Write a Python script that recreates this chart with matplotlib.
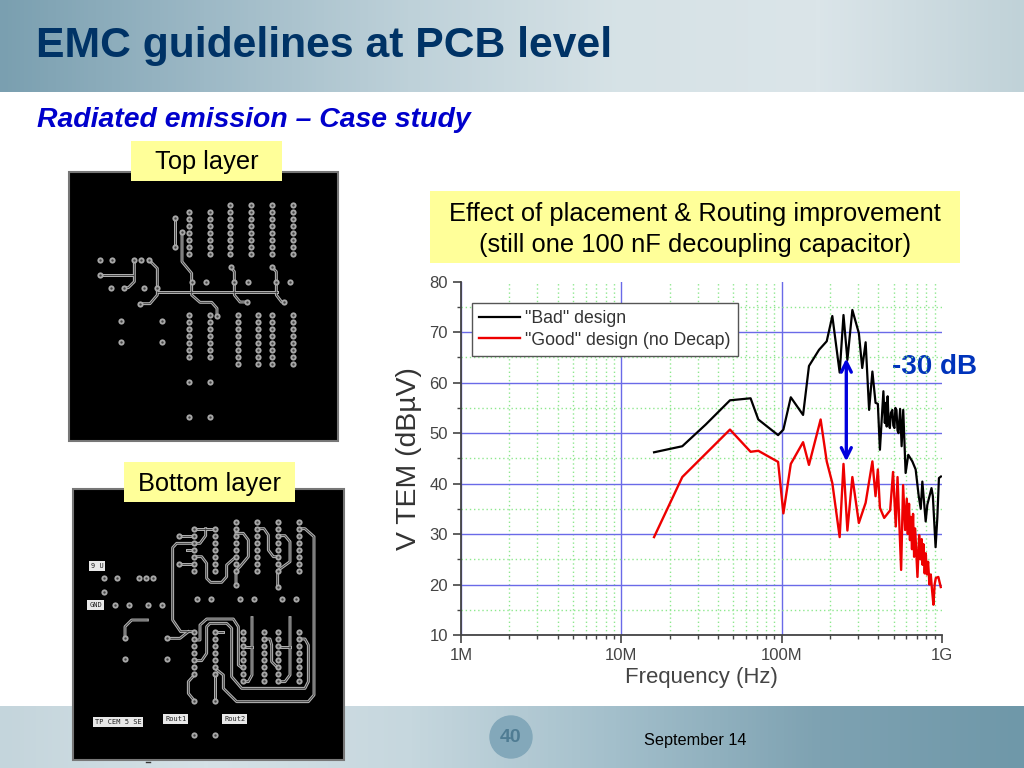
import matplotlib
matplotlib.use("Agg")
import matplotlib.pyplot as plt
import numpy as np
from matplotlib import colors
from matplotlib.patches import Rectangle, Circle

plt.rcParams['font.family'] = ['Liberation Sans', 'DejaVu Sans']

# chart values, frequency in MHz and level in dBuV
bad_freq = [16, 24, 33.6, 47.6, 64, 71.5, 95, 102.5, 114, 136, 148, 171, 191, 207, 230, 243, 257, 276, 303, 318,
            334, 351, 368, 385, 398, 410, 431, 440, 447, 452, 458, 465, 473, 480, 490, 497, 505, 512, 520, 528, 535, 548, 560, 573, 593, 616, 653,
            685, 716, 737, 754, 791, 810, 860, 877, 912, 935, 957, 985]
bad_level = [46.2, 47.4, 51.7, 56.5, 56.9, 52.7, 49.6, 50.7, 57.1, 53.6, 63.3, 66.5, 68.2, 73.2, 62, 73.4, 64.5, 74.4, 69.8, 62.9,
             68, 54.6, 62.2, 56, 55.8, 46.7, 58.3, 52, 56, 51.3, 57.3, 52, 51, 54, 54.6, 51.5, 51, 55, 54.6, 50.5, 50, 54.8, 47.4, 54.6, 42.1, 45.7, 44.4,
             42.8, 37.5, 35, 40.4, 32.5, 35.8, 39.1, 37.5, 27.4, 33.2, 41.1, 41.4]
good_freq = [16, 24, 47.6, 64, 71.5, 95, 102.5, 114, 136, 148, 175, 191, 207, 230, 243, 257, 276, 303, 334, 368,
             385, 398, 410, 436, 475, 495, 515, 528, 556, 572, 589, 603, 612, 623, 631, 639, 650, 660, 670, 680,
             703, 720, 733, 747, 757, 766, 780, 792, 805, 819, 835, 851, 867, 884, 900, 915, 949, 982]
good_level = [29.4, 41.3, 50.7, 46.3, 46.5, 44.3, 34.1, 43.9, 48.2, 43.7, 52.7, 44.4, 40.1, 29.4, 43.9, 30.7, 41.3, 32.2, 36.2, 44.4,
              37.5, 42.8, 35.2, 33.2, 34.7, 42.3, 31.5, 41.3, 22.9, 39.7, 30.8, 37, 30, 36, 28.8, 33.4, 27, 34, 25.5, 31.1,
              21.5, 29.8, 25, 29, 23.9, 28, 22.2, 26.2, 22, 24.5, 20, 22, 18.9, 16, 20, 21.3, 21.5, 19.5]
x_ticks = [1, 10, 100, 1000]
x_labels = ['1M', '10M', '100M', '1G']
y_ticks = [10, 20, 30, 40, 50, 60, 70, 80]

# board drawings, same numbers
top_traces = [[(345, 145), (345, 230)],
              [(366, 186), (366, 275), (395, 310), (395, 375), (420, 397), (455, 397), (471, 415), (471, 438)],
              [(120, 315), (218, 315)],
              [(223, 269), (223, 335), (205, 353), (193, 353)],
              [(266, 269), (292, 295), (292, 375), (270, 401), (241, 401)],
              [(292, 365), (650, 365)],
              [(513, 292), (523, 305), (523, 375), (540, 396), (562, 396)],
              [(637, 292), (649, 305), (649, 375), (665, 396), (672, 396)]]
top_pads = [(120, 271), (156, 271), (223, 269), (244, 269), (266, 269), (120, 315), (152, 353), (193, 353), (251, 353),
            (183, 453), (307, 453), (183, 515), (307, 515), (387, 637), (449, 637), (387, 741), (449, 741),
            (345, 145), (345, 230), (366, 186), (438, 336), (565, 336), (691, 336), (395, 336), (523, 336), (649, 336),
            (513, 292), (637, 292), (241, 401), (562, 396), (672, 396), (471, 438), (291, 353)]
top_cols = [(388, 125, 7), (450, 125, 7), (511, 104, 8), (573, 104, 8), (636, 104, 8), (699, 104, 8),
            (387, 436, 7), (449, 436, 7), (533, 436, 8), (595, 436, 8), (636, 436, 8), (699, 436, 8)]

bottom_traces = [[(403, 131), (465, 131)], [(358, 152), (403, 152)], [(437, 131), (437, 152), (420, 175), (403, 175)],
                 [(403, 175), (350, 175), (338, 188), (338, 405), (362, 440), (403, 440)],
                 [(358, 236), (403, 236)], [(380, 195), (403, 195)],
                 [(403, 215), (425, 215), (440, 235), (440, 280), (452, 292), (485, 292), (500, 275), (500, 240), (528, 215)],
                 [(528, 145), (550, 145), (565, 165), (565, 215), (540, 245), (528, 257), (528, 300)],
                 [(590, 131), (612, 131), (625, 150), (625, 195), (640, 215), (653, 215)],
                 [(653, 152), (675, 152), (690, 170), (690, 230), (653, 257), (653, 305)],
                 [(716, 131), (735, 131), (762, 155), (762, 630), (745, 650), (530, 650), (490, 610), (490, 570), (465, 550)],
                 [(403, 570), (385, 590), (385, 625), (403, 647)], [(465, 570), (465, 647)],
                 [(195, 460), (195, 425), (215, 405), (262, 405)], [(320, 460), (360, 460), (385, 440)],
                 [(403, 465), (420, 465), (420, 420), (440, 402), (520, 402), (535, 425), (535, 540), (548, 550)],
                 [(403, 527), (425, 527), (440, 505), (440, 425), (450, 415), (500, 415), (515, 430), (515, 575), (545, 610),
                  (735, 610), (745, 590), (745, 480), (735, 462), (716, 462)],
                 [(465, 442), (490, 442)], [(576, 398), (576, 570), (565, 590), (548, 590)],
                 [(690, 398), (690, 570), (675, 590), (653, 590)], [(548, 485), (576, 485)], [(653, 485), (690, 485)],
                 [(611, 462), (630, 462), (635, 480), (635, 530), (653, 548)]]
bottom_pads = [(131, 278), (170, 278), (238, 278), (259, 278), (280, 278), (131, 320), (166, 360), (207, 360), (265, 360),
               (306, 360), (195, 460), (320, 460), (195, 522), (320, 522), (403, 647), (465, 647), (403, 749), (465, 749),
               (411, 343), (453, 343), (540, 343), (582, 343), (665, 343), (708, 343), (358, 152), (358, 236), (528, 300), (653, 305)]
bottom_cols = [(403, 131, 7), (465, 131, 7), (528, 110, 8), (590, 110, 8), (653, 110, 8), (716, 110, 8),
               (403, 442, 7), (465, 442, 7), (548, 442, 8), (611, 442, 8), (653, 442, 8), (716, 442, 8)]
bottom_labels = [('9 U', 111, 242), ('GND', 107, 360), ('TP CEM 5 SE', 174, 712), ('Rout1', 347, 701), ('Rout2', 524, 701)]

fig = plt.figure(figsize=(10.24, 7.68), dpi=100, facecolor='white')

# whole slide in pixel coordinates
bg = fig.add_axes([0, 0, 1, 1])
bg.set_xlim(0, 1024)
bg.set_ylim(768, 0)
bg.axis('off')

head_cmap = colors.LinearSegmentedColormap.from_list('head', ['#7a9fb0', '#9db9c6', '#bed1d9', '#d6e2e6', '#dbe5e9', '#c0d2d8'])
foot_cmap = colors.LinearSegmentedColormap.from_list('foot', ['#c4d5dc', '#d5e1e6', '#c6d7de', '#a3bfcb', '#7ea2b2', '#6f98a9'])
ramp = np.linspace(0, 1, 256).reshape(1, -1)
bg.imshow(ramp, extent=(0, 1024, 92, 0), cmap=head_cmap, aspect='auto')
bg.imshow(ramp, extent=(0, 1024, 768, 706), cmap=foot_cmap, aspect='auto')
bg.set_xlim(0, 1024)
bg.set_ylim(768, 0)

bg.text(36, 46, 'EMC guidelines at PCB level', fontsize=30.7, fontweight='bold', color='#003366', va='center')
bg.text(37, 120, 'Radiated emission \u2013 Case study', fontsize=20.4, fontweight='bold', style='italic', color='#0000cc', va='center')

bg.add_patch(Circle((511, 737), 21, color='#83a8ba', zorder=2))
bg.text(511, 738, '40', fontsize=14, fontweight='bold', color='#4f7c93', ha='center', va='center', zorder=3)
bg.text(695, 741, 'September 14', fontsize=11.7, color='black', ha='center', va='center')
# small speck under the bottom board
bg.plot([146, 150], [762, 762], color='#333333', lw=1)


def draw_board(x0, y0, x1, y1, ox, oy, traces, pads, cols):
    bg.add_patch(Rectangle((x0, y0), x1 - x0, y1 - y0, facecolor='black', edgecolor='#777777', lw=1.5, zorder=3))
    for tr in traces:
        xs = [ox + p[0] / 3 for p in tr]
        ys = [oy + p[1] / 3 for p in tr]
        bg.plot(xs, ys, color='#b5b5b5', lw=2.1, zorder=4, solid_joinstyle='round')
        bg.plot(xs, ys, color='#333333', lw=0.6, zorder=5, solid_joinstyle='round')
    all_x = [ox + p[0] / 3 for p in pads]
    all_y = [oy + p[1] / 3 for p in pads]
    for cx, cy, n in cols:
        for i in range(n):
            all_x.append(ox + cx / 3)
            all_y.append(oy + (cy + i * 21) / 3)
    bg.scatter(all_x, all_y, s=20, color='#a8a8a8', lw=0, zorder=6)
    bg.scatter(all_x, all_y, s=3, color='#444444', lw=0, zorder=7)


draw_board(69, 172, 338, 441, 60, 170, top_traces, top_pads, top_cols)
draw_board(73, 489, 344, 760, 60, 485, bottom_traces, bottom_pads, bottom_cols)
for txt, lx, ly in bottom_labels:
    bg.text(60 + lx / 3, 485 + ly / 3, txt, fontsize=5, family='DejaVu Sans Mono', color='#222222', ha='center', va='center', zorder=8,
            bbox=dict(facecolor='#e8e8e8', edgecolor='none', pad=1.5))

# yellow captions
for x0, y0, x1, y1 in [(131, 141, 282, 181), (124, 462, 295, 502), (430, 191, 960, 263)]:
    bg.add_patch(Rectangle((x0, y0), x1 - x0, y1 - y0, facecolor='#ffff99', edgecolor='none', zorder=9))
bg.text(206.5, 162, 'Top layer', fontsize=18.3, ha='center', va='center', zorder=10)
bg.text(209.5, 484, 'Bottom layer', fontsize=18.3, ha='center', va='center', zorder=10)
bg.text(695, 214, 'Effect of placement & Routing improvement', fontsize=18.4, ha='center', va='center', zorder=10)
bg.text(695, 245, '(still one 100 nF decoupling capacitor)', fontsize=18.4, ha='center', va='center', zorder=10)

# the measurement plot
ax = fig.add_axes([461 / 1024, (768 - 635) / 768, (942 - 461) / 1024, (635 - 281.7) / 768])
ax.patch.set_alpha(0)
ax.set_xscale('log')
ax.set_xlim(1, 1000)
ax.set_ylim(10, 80)
ax.set_xticks(x_ticks)
ax.set_xticklabels(x_labels)
ax.set_xticks([m * d for d in x_ticks[:3] for m in range(2, 10)], minor=True)
ax.set_xticklabels([], minor=True)
ax.set_yticks(y_ticks)
ax.set_yticks([15, 25, 35, 45, 55, 65, 75], minor=True)
ax.grid(True, which='major', color='#6a6ae8', lw=1)
ax.grid(True, which='minor', color='#8ee88e', lw=1, ls=(0, (1, 2)))
ax.set_axisbelow(True)
# no blue lines along the top and right ends
ax.get_ygridlines()[-1].set_visible(False)
ax.get_xgridlines()[-1].set_visible(False)
for side in ['top', 'right']:
    ax.spines[side].set_visible(False)
for side in ['left', 'bottom']:
    ax.spines[side].set_color('#444444')
    ax.spines[side].set_linewidth(1.3)
ax.tick_params(which='major', length=6, width=1.2, color='#444444', labelcolor='#444444', labelsize=12)
ax.tick_params(which='minor', length=3, width=1, color='#444444')

ax.plot(bad_freq, bad_level, color='black', lw=1.6, label='"Bad" design')
ax.plot(good_freq, good_level, color='#ee0000', lw=1.7, label='"Good" design (no Decap)')
leg = ax.legend(loc='upper left', bbox_to_anchor=(11 / 481, 1 - 21 / 353.3), borderaxespad=0, fontsize=12.7, fancybox=False,
                framealpha=1, edgecolor='#555555', labelcolor='#333333', handlelength=2.3, handletextpad=0.3, labelspacing=0.25,
                borderpad=0.42)
leg.get_frame().set_linewidth(1)

ax.annotate('', xy=(253, 64.8), xytext=(253, 44.4),
            arrowprops=dict(arrowstyle='<->', color='#0000dd', lw=2.4, mutation_scale=18, shrinkA=0, shrinkB=0))
ax.set_xlabel('Frequency (Hz)', fontsize=15.9, color='#444444', labelpad=3)
ax.set_ylabel('V TEM (dB\u00b5V)', fontsize=20.4, color='#333333', labelpad=5)

bg.text(935, 367, '-30 dB', fontsize=20, fontweight='bold', color='#0033bb', ha='center', va='center', zorder=10)

fig.savefig('out.png', dpi=100)
